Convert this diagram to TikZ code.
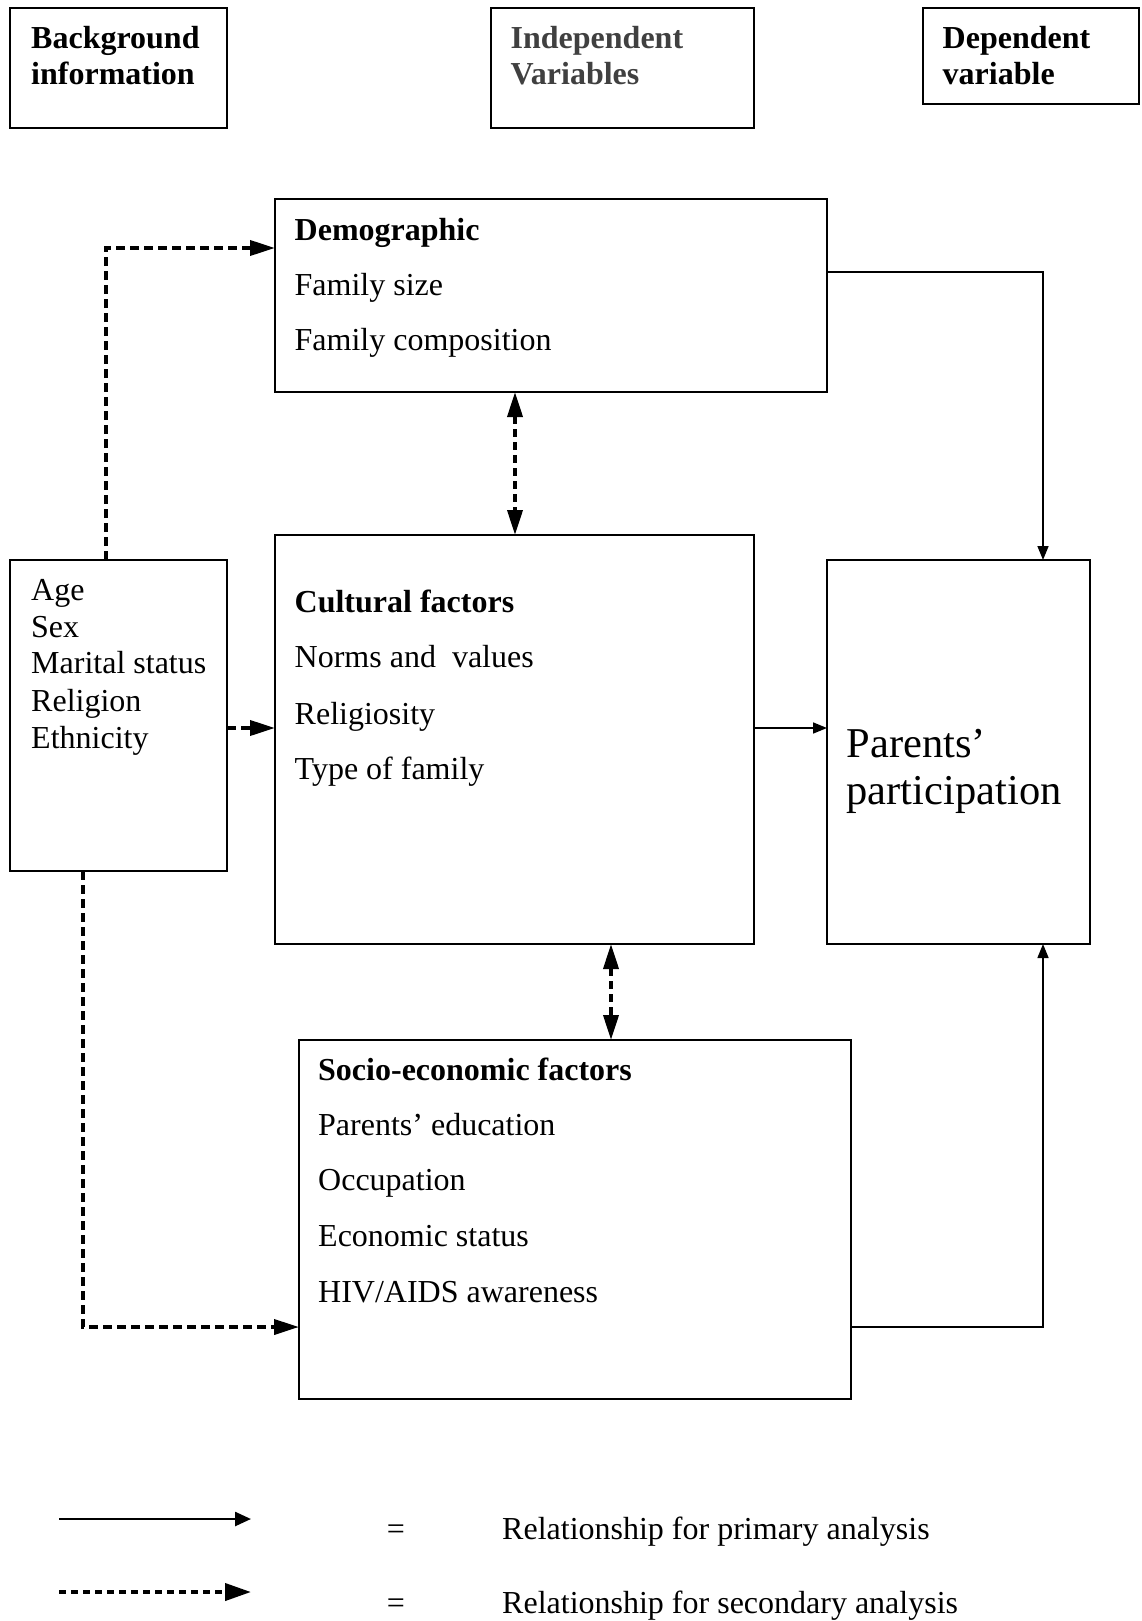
\documentclass[tikz,border=0pt]{standalone}
\usepackage{fontspec}
\setmainfont{Liberation Serif}
\usetikzlibrary{arrows.meta}
\definecolor{indgray}{HTML}{404040}
\begin{document}
\begin{tikzpicture}[x=1pt,y=-1pt,
  box/.style={draw,line width=1.8pt,inner sep=0pt,outer sep=0pt,anchor=north west},
  txt/.style={anchor=base west,inner sep=0pt,font=\fontsize{32}{36}\selectfont},
  hd/.style={txt,font=\fontsize{32}{36}\selectfont\bfseries},
  big/.style={anchor=base west,inner sep=0pt,font=\fontsize{42.5}{48}\selectfont},
  prim/.style={line width=1.6pt,-{Triangle[length=14pt,width=11pt]}},
  sec/.style={line width=3.7pt,dash pattern=on 9pt off 5pt,-{Triangle[length=25pt,width=15pt]}},
  secboth/.style={line width=3.7pt,dash pattern=on 8pt off 5pt,{Triangle[length=25pt,width=15pt]}-{Triangle[length=25pt,width=15pt]}},
  legprim/.style={line width=2.5pt,-{Triangle[length=16pt,width=14pt]}},
  legsec/.style={line width=4pt,dash pattern=on 7pt off 5pt,-{Triangle[length=26pt,width=17pt]}}]
\useasboundingbox (0,0) rectangle (1141,1621);

% header boxes
\node[box,minimum width=217pt,minimum height=120pt] (bgh) at (10,8) {};
\node[box,minimum width=263pt,minimum height=120pt] (indh) at (491,8) {};
\node[box,minimum width=216pt,minimum height=96pt] (deph) at (923,8) {};
\node[hd] (bgh1) at (31,48.5) {Background};
\node[hd] (bgh2) at (31,84.7) {information};
\node[hd,text=indgray] (indh1) at (510.5,48.5) {Independent};
\node[hd,text=indgray] (indh2) at (510.5,84.7) {Variables};
\node[hd] (deph1) at (942.5,48.5) {Dependent};
\node[hd] (deph2) at (942.5,84.7) {variable};

% main boxes
\node[box,minimum width=552pt,minimum height=193pt] (demo) at (275,199) {};
\node[box,minimum width=479pt,minimum height=409pt] (cult) at (275,535) {};
\node[box,minimum width=217pt,minimum height=311pt] (bg) at (10,560) {};
\node[box,minimum width=263pt,minimum height=384pt] (par) at (827,560) {};
\node[box,minimum width=552pt,minimum height=359pt] (soc) at (299,1040) {};

% demographic
\node[hd] (d1) at (294.5,241) {Demographic};
\node[txt] (d2) at (294.5,295.5) {Family size};
\node[txt] (d3) at (294.5,350.5) {Family composition};

% cultural
\node[hd] (c1) at (294.5,612.5) {Cultural factors};
\node[txt] (c2) at (294.5,667.5) {Norms and\ \ values};
\node[txt] (c3) at (294.5,724) {Religiosity};
\node[txt] (c4) at (294.5,779) {Type of family};

% background list
\node[txt] (b1) at (31,600.5) {Age};
\node[txt] (b2) at (31,637.6) {Sex};
\node[txt] (b3) at (31,673.8) {Marital status};
\node[txt] (b4) at (31,711) {Religion};
\node[txt] (b5) at (31,748) {Ethnicity};

% parents
\node[big] (p1) at (846.5,757.5) {Parents’};
\node[big] (p2) at (846.5,804) {participation};

% socio-economic
\node[hd] (s1) at (318,1080.5) {Socio-economic factors};
\node[txt] (s2) at (318,1135.5) {Parents’ education};
\node[txt] (s3) at (318,1190.5) {Occupation};
\node[txt] (s4) at (318,1246.5) {Economic status};
\node[txt] (s5) at (318,1302) {HIV/AIDS awareness};

% connector helper coordinates
\coordinate (k1) at (106,248);
\coordinate (k2) at (515,0);
\coordinate (k3) at (0,728);
\coordinate (k4) at (1043,272);
\coordinate (k5) at (83,1327);
\coordinate (k6) at (611,0);

% connectors
\draw[sec] (k1 |- bg.north) |- (k1 -| demo.west);
\draw[secboth] (k2 |- demo.south) -- (k2 |- cult.north);
\draw[sec] (bg.east |- k3) -- (cult.west |- k3);
\draw[prim] (cult.east |- k3) -- (par.west |- k3);
\draw[prim] (demo.east |- k4) -| (par.north -| k4);
\draw[sec] (bg.south -| k5) |- (soc.west |- k5);
\draw[secboth] (k6 |- cult.south) -- (k6 |- soc.north);
\draw[prim] (soc.east |- k5) -| (par.south -| k4);

% legend
\coordinate (la) at (59,1519);
\coordinate (lb) at (251,1519);
\coordinate (lc) at (59,1592);
\coordinate (ld) at (251,1592);
\draw[legprim] (la) -- (lb);
\draw[legsec] (lc) -- (ld);
\node[txt,anchor=base] (e1) at (396,1539) {=};
\node[txt,anchor=base] (e2) at (396,1613) {=};
\node[txt] (r1) at (502,1539) {Relationship for primary analysis};
\node[txt] (r2) at (502,1613) {Relationship for secondary analysis};
\end{tikzpicture}
\end{document}
